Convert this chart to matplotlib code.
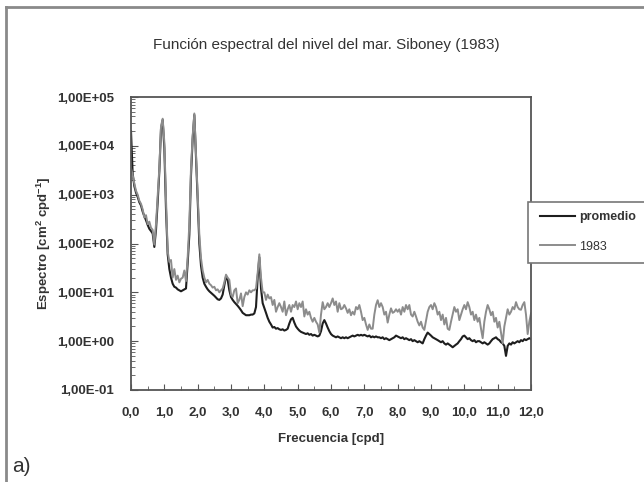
import matplotlib
matplotlib.use('Agg')
import matplotlib.pyplot as plt
import numpy as np
from matplotlib.lines import Line2D
from matplotlib.patches import Rectangle
from matplotlib.ticker import FuncFormatter, MultipleLocator, LogLocator, NullFormatter

# frequency grid [cpd], 0.05 step
freq = np.round(np.arange(0, 12.0001, 0.05), 2)

# "promedio" spectrum, one row per 0.5 cpd
promedio = [
    20000, 2700, 1500, 1100, 900, 700, 600, 450, 360, 300,
    240, 200, 180, 160, 85, 190, 700, 3000, 22000, 34000,
    9000, 500, 60, 30, 20, 15, 13, 12.5, 11.5, 11,
    10.5, 11, 11.5, 12, 40, 150, 2500, 14000, 43000, 6000,
    800, 100, 35, 20, 15, 13, 11.5, 10.5, 9.8, 9.2,
    8.5, 7.8, 7.2, 7.0, 7.5, 9, 14, 21, 18, 11,
    8, 7, 6.3, 5.8, 5.3, 4.8, 4.3, 3.8, 3.6, 3.4,
    3.4, 3.4, 3.5, 3.5, 3.7, 5, 20, 52, 12, 6,
    4.8, 3.8, 3.0, 2.5, 2.2, 1.9, 1.95, 1.8, 1.85, 1.75,
    1.7, 1.75, 1.65, 1.7, 1.8, 2.3, 2.8, 3.0, 2.4, 2.0,
    1.8, 1.65, 1.55, 1.5, 1.45, 1.4, 1.45, 1.35, 1.4, 1.3,
    1.35, 1.3, 1.25, 1.3, 1.6, 2.3, 2.7, 2.3, 1.9, 1.6,
    1.4, 1.3, 1.25, 1.2, 1.25, 1.2, 1.15, 1.2, 1.15, 1.2,
    1.15, 1.2, 1.25, 1.3, 1.25, 1.3, 1.35, 1.3, 1.35, 1.3,
    1.35, 1.3, 1.25, 1.3, 1.2, 1.25, 1.2, 1.25, 1.2, 1.2,
    1.15, 1.2, 1.1, 1.15, 1.1, 1.05, 1.1, 1.15, 1.2, 1.3,
    1.25, 1.2, 1.15, 1.2, 1.1, 1.15, 1.1, 1.05, 1.1, 1.0,
    1.05, 1.0, 0.95, 1.0, 0.95, 0.9, 1.1, 1.3, 1.5, 1.4,
    1.3, 1.2, 1.15, 1.1, 1.05, 1.0, 0.95, 1.0, 0.9, 0.85,
    0.9, 0.85, 0.8, 0.75, 0.8, 0.85, 0.9, 1.0, 1.1, 1.25,
    1.3, 1.2, 1.1, 1.15, 1.05, 1.0, 1.05, 0.95, 1.0, 1.0,
    0.95, 0.9, 0.95, 0.9, 0.85, 0.9, 1.0, 1.1, 1.15, 1.2,
    1.1, 1.05, 0.95, 0.9, 0.8, 0.5, 0.8, 0.9, 0.85, 0.95,
    0.9, 0.95, 1.0, 0.95, 1.05, 1.0, 1.1, 1.05, 1.1, 1.15,
    1.1,
]

# 1983 spectrum
s1983 = [
    3500, 2500, 1700, 1200, 1000, 750, 650, 500, 340, 380,
    250, 280, 210, 190, 95, 250, 900, 3500, 25000, 36000,
    12000, 800, 70, 42, 46, 20, 30, 18, 22, 16,
    19, 20, 28, 17, 52, 250, 3500, 16000, 46000, 7000,
    1200, 150, 50, 28, 20, 16, 18, 15, 14, 12.5,
    13, 11, 11.5, 10, 11, 12, 16, 23, 20, 18,
    9, 8, 11, 12, 6, 7, 9.5, 5.2, 8, 10,
    9, 11, 10, 11, 11, 12, 25, 60, 20, 10,
    10, 7, 9, 7.5, 8, 5.5, 7, 4, 5, 6,
    5, 4, 6.5, 3.4, 4.5, 5.5, 4, 5.5, 5, 6.5,
    4.5, 6, 5, 6.5, 3.2, 4.5, 3.5, 4, 3, 2.5,
    3, 2.5, 2.2, 1.5, 3.5, 6.3, 4.5, 5, 6, 5,
    6, 7.5, 5.5, 6.5, 4, 6, 4.5, 4.7, 5.5, 4.7,
    3.8, 4.5, 3.4, 4, 3.5, 5, 4.5, 5.5, 4, 2.7,
    3, 2.2, 1.7, 2.2, 1.8, 1.8, 3.5, 5.5, 6.9, 5,
    6, 5, 3.5, 4, 2.4, 3.5, 4.7, 3.8, 4, 4.5,
    4, 4.5, 3.5, 5, 4, 5.5, 4.5, 5.5, 3.5, 3.2,
    4, 3.2, 2.5, 2.1, 2.5, 1.9, 1.7, 2.6, 4, 5,
    5.5, 4.5, 6, 5, 3.5, 4, 2.7, 3.5, 2.2, 3,
    1.8, 1.7, 2.5, 3.5, 5, 4, 4.5, 2.7, 3.5, 4.5,
    5.5, 4.5, 6.3, 5, 3.5, 4, 2.7, 3.5, 2.5, 3,
    1.8, 1.15, 2.5, 4, 5.5, 4.5, 3.4, 4, 2.5, 3,
    1.9, 2.5, 1.5, 0.9, 2, 3, 4.5, 3.5, 4, 5,
    4.5, 6.3, 5, 4.5, 4.4, 5.5, 6.3, 3.5, 1.4, 2.5,
    3.7,
]

labels = ['promedio', '1983']
xticks = np.arange(0, 13, 1)

plt.rcParams['font.family'] = ['Liberation Sans', 'DejaVu Sans']
plt.rcParams['mathtext.fontset'] = 'custom'
plt.rcParams['mathtext.rm'] = 'Liberation Sans:bold'

W, H = 644, 482
fig = plt.figure(figsize=(W / 100, H / 100), dpi=100)
ax = fig.add_axes([131 / W, 1 - 390 / H, 400 / W, 293 / H])

txt = '#333333'
ax.plot(freq, promedio, color='#1e1e1e', lw=1.5, label=labels[0])
ax.plot(freq, s1983, color='#8c8c8c', lw=1.4, label=labels[1])

ax.set_yscale('log')
ax.set_xlim(0, 12)
ax.set_ylim(0.1, 1e5)
ax.set_xticks(xticks)
ax.xaxis.set_minor_locator(MultipleLocator(0.5))
ax.xaxis.set_major_formatter(FuncFormatter(lambda v, p: f'{v:.1f}'.replace('.', ',')))
ax.yaxis.set_major_locator(LogLocator(base=10, numticks=10))
ax.yaxis.set_minor_locator(LogLocator(base=10, subs=np.arange(2, 10), numticks=20))
ax.yaxis.set_minor_formatter(NullFormatter())
ax.yaxis.set_major_formatter(FuncFormatter(lambda v, p: f'{v:.2E}'.replace('.', ',')))

for s in ax.spines.values():
    s.set_color('#555555')
    s.set_linewidth(1.3)
ax.tick_params(axis='both', which='both', direction='in', colors='#555555', labelcolor=txt)
ax.tick_params(axis='x', which='major', length=4, pad=12, labelsize=9.5)
ax.tick_params(axis='x', which='minor', length=3)
ax.tick_params(axis='y', which='major', length=5, pad=12, labelsize=9.5)
ax.tick_params(axis='y', which='minor', length=3, width=0.6)
for lab in ax.get_xticklabels() + ax.get_yticklabels():
    lab.set_fontweight('bold')

ax.set_xlabel('Frecuencia [cpd]', fontsize=9.5, fontweight='bold', color=txt, labelpad=10)
ax.set_ylabel('Espectro [cm$^{2}$ cpd$^{-1}$]', fontsize=9.5, fontweight='bold', color=txt, labelpad=3)
fig.text(326 / W, 1 - 45 / H, 'Función espectral del nivel del mar. Siboney (1983)',
         ha='center', va='center', fontsize=11, color=txt)

# outer chart frame
fig.add_artist(Line2D([6 / W, 6 / W], [0, 1 - 7 / H], color='#8a8a8a', lw=2))
fig.add_artist(Line2D([6 / W, 1], [1 - 7 / H, 1 - 7 / H], color='#8a8a8a', lw=2))

# legend box running off the right edge
fig.add_artist(Rectangle((528 / W, 1 - 263 / H), 0.3, 61 / H, transform=fig.transFigure,
                         facecolor='white', edgecolor='#777777', lw=1.2, zorder=3))
h, l = ax.get_legend_handles_labels()
leg = fig.legend(h, l, loc='center left', bbox_to_anchor=(529 / W, 1 - 232 / H),
                 frameon=False, fontsize=9, handlelength=2.8, handletextpad=0.3,
                 labelspacing=1.4)
leg.set_zorder(4)
for t in leg.get_texts():
    t.set_color(txt)
leg.get_texts()[0].set_fontweight('bold')

fig.text(12 / W, 1 - 466 / H, 'a)', fontsize=15, color='#333333', va='center', ha='left')

fig.savefig('out.png', dpi=100)
